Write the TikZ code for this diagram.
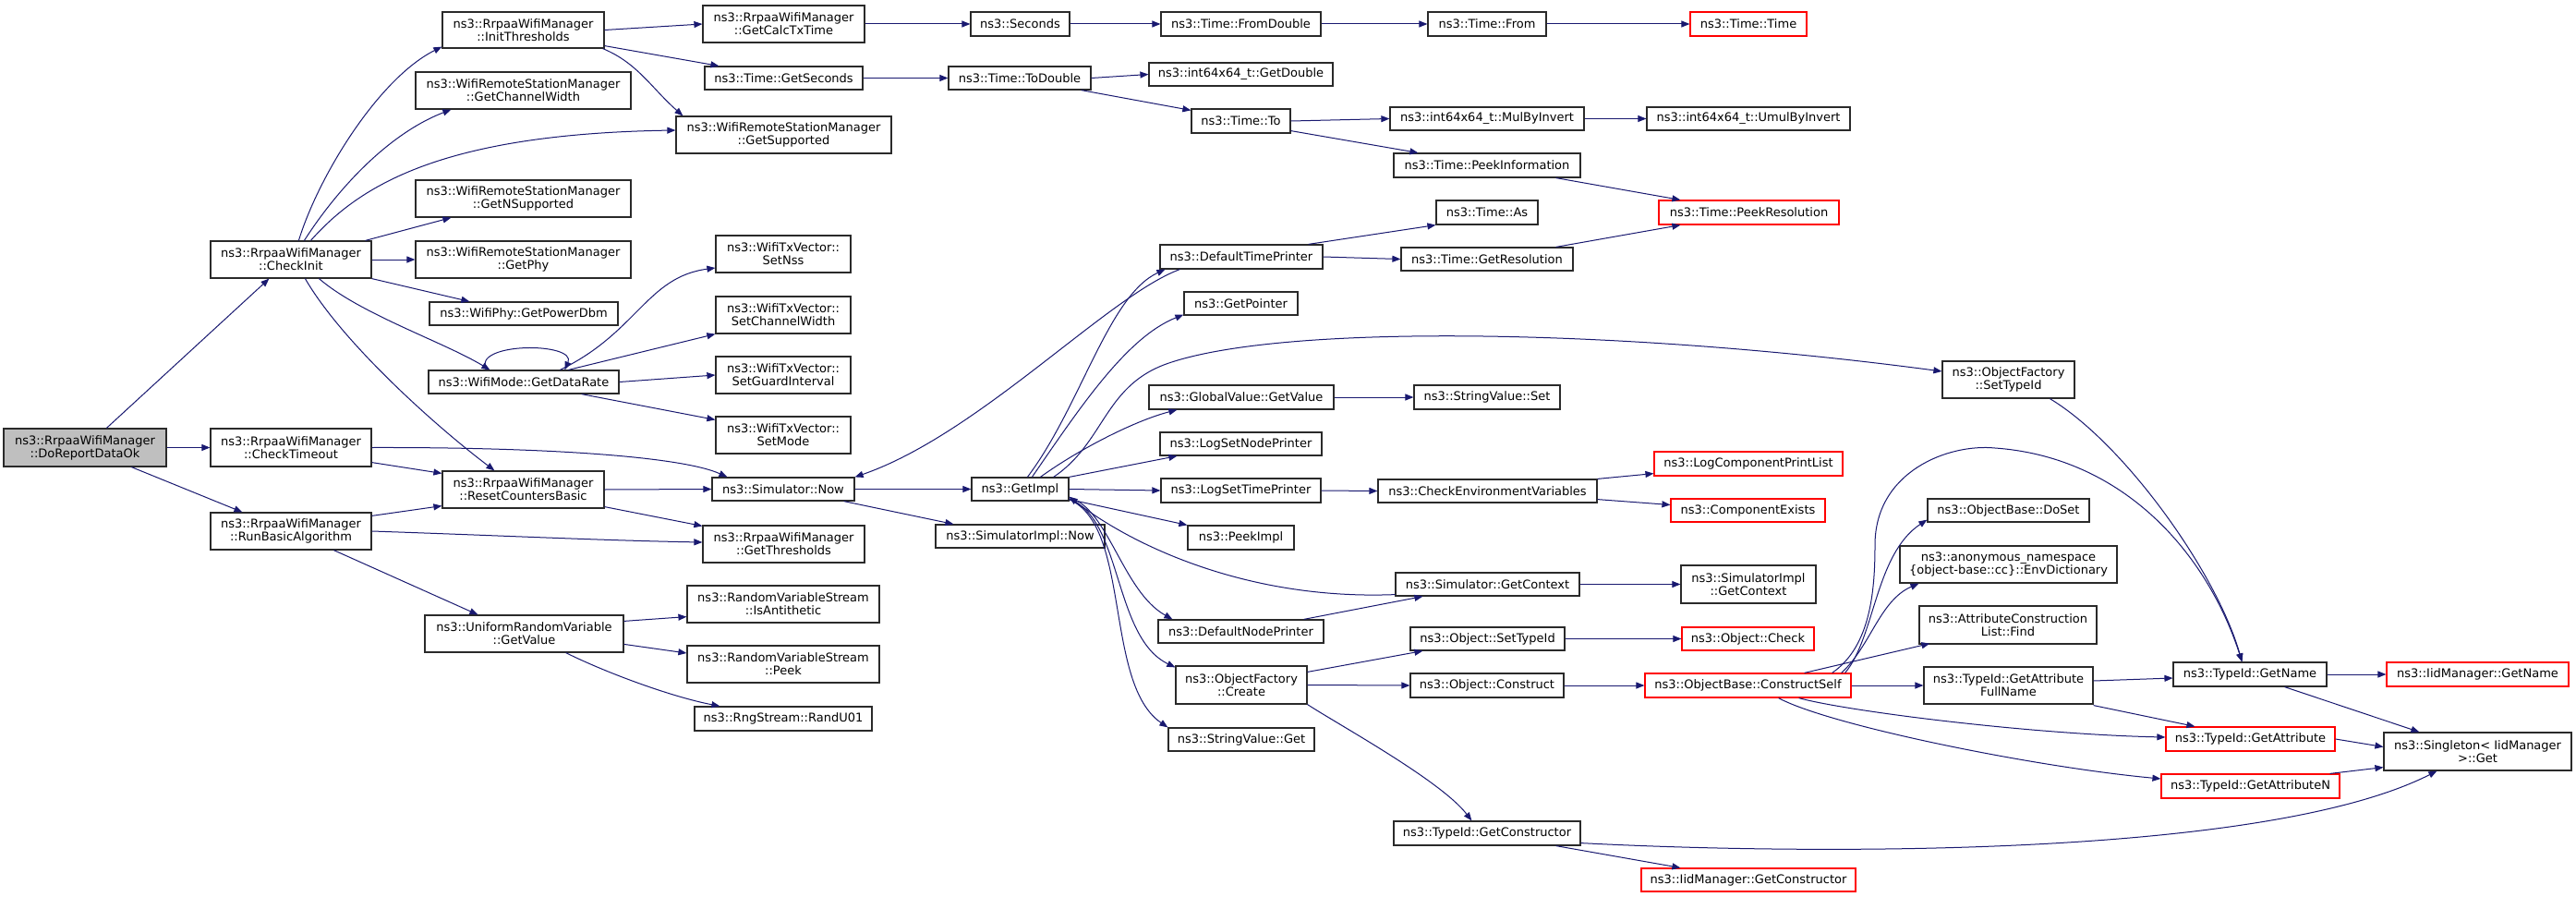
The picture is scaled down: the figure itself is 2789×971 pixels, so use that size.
\documentclass[tikz,border=0pt]{standalone}
\usepackage{fontspec}
\setmainfont{DejaVu Sans}
\usetikzlibrary{arrows.meta}
\definecolor{edgeblue}{HTML}{191970}
\definecolor{boxline}{HTML}{2A2A2A}
\definecolor{startfill}{HTML}{BFBFBF}
\definecolor{redline}{HTML}{FF0000}
\newcommand\bx[7]{%
 \pgfmathsetmacro\bxw{#5-#3}\pgfmathsetmacro\bxh{#6-#4}%
 \pgfmathsetmacro\bxx{(#3+#5)/2}\pgfmathsetmacro\bxy{(#4+#6)/2}%
 \node[#1,minimum width=\bxw pt,minimum height=\bxh pt] (#2) at (\bxx,\bxy) {#7};}
\begin{document}
\begin{tikzpicture}[x=1pt,y=-1pt,
  nbox/.style={draw=boxline,line width=1.2pt,fill=white,inner sep=0pt,align=center,font=\fontsize{13}{14}\selectfont},
  rbox/.style={nbox,draw=redline},
  sbox/.style={nbox,fill=startfill},
  cedge/.style={draw=edgeblue,line width=1pt,-{Triangle[length=9pt,width=7pt]}}]
\fill[white] (0,0) rectangle (2789,971);
\useasboundingbox (0,0) rectangle (2789,971);
% nodes
\bx{sbox}{drdo}{4}{464}{180}{505}{ns3::RrpaaWifiManager\\::DoReportDataOk}
\bx{nbox}{ci}{228}{261}{402}{301}{ns3::RrpaaWifiManager\\::CheckInit}
\bx{nbox}{ct}{228}{464}{402}{505}{ns3::RrpaaWifiManager\\::CheckTimeout}
\bx{nbox}{rba}{228}{555}{402}{595}{ns3::RrpaaWifiManager\\::RunBasicAlgorithm}
\bx{nbox}{it}{479}{13}{654}{52}{ns3::RrpaaWifiManager\\::InitThresholds}
\bx{nbox}{gcw}{450}{78}{683}{118}{ns3::WifiRemoteStationManager\\::GetChannelWidth}
\bx{nbox}{gns}{450}{195}{683}{235}{ns3::WifiRemoteStationManager\\::GetNSupported}
\bx{nbox}{gphy}{450}{261}{683}{301}{ns3::WifiRemoteStationManager\\::GetPhy}
\bx{nbox}{gpd}{465}{327}{669}{352}{ns3::WifiPhy::GetPowerDbm}
\bx{nbox}{gdr}{464}{401}{670}{426}{ns3::WifiMode::GetDataRate}
\bx{nbox}{rcb}{479}{510}{654}{550}{ns3::RrpaaWifiManager\\::ResetCountersBasic}
\bx{nbox}{urv}{460}{666}{675}{706}{ns3::UniformRandomVariable\\::GetValue}
\bx{nbox}{gctt}{761}{6}{936}{46}{ns3::RrpaaWifiManager\\::GetCalcTxTime}
\bx{nbox}{gsec}{763}{72}{934}{97}{ns3::Time::GetSeconds}
\bx{nbox}{gsup}{732}{126}{965}{166}{ns3::WifiRemoteStationManager\\::GetSupported}
\bx{nbox}{snss}{775}{255}{921}{295}{ns3::WifiTxVector::\\SetNss}
\bx{nbox}{scw}{775}{321}{921}{361}{ns3::WifiTxVector::\\SetChannelWidth}
\bx{nbox}{sgi}{775}{386}{921}{426}{ns3::WifiTxVector::\\SetGuardInterval}
\bx{nbox}{smode}{775}{451}{921}{491}{ns3::WifiTxVector::\\SetMode}
\bx{nbox}{snow}{771}{517}{925}{542}{ns3::Simulator::Now}
\bx{nbox}{gthr}{761}{569}{936}{609}{ns3::RrpaaWifiManager\\::GetThresholds}
\bx{nbox}{isa}{744}{634}{952}{674}{ns3::RandomVariableStream\\::IsAntithetic}
\bx{nbox}{rvsp}{744}{699}{952}{739}{ns3::RandomVariableStream\\::Peek}
\bx{nbox}{rand}{752}{765}{944}{791}{ns3::RngStream::RandU01}
\bx{nbox}{sec}{1051}{13}{1158}{39}{ns3::Seconds}
\bx{nbox}{tod}{1027}{72}{1181}{97}{ns3::Time::ToDouble}
\bx{nbox}{gimpl}{1052}{517}{1157}{542}{ns3::GetImpl}
\bx{nbox}{sinow}{1013}{568}{1196}{593}{ns3::SimulatorImpl::Now}
\bx{nbox}{fromd}{1257}{13}{1430}{39}{ns3::Time::FromDouble}
\bx{nbox}{gdbl}{1244}{68}{1443}{93}{ns3::int64x64\_t::GetDouble}
\bx{nbox}{tto}{1290}{118}{1397}{144}{ns3::Time::To}
\bx{nbox}{dtp}{1256}{265}{1432}{291}{ns3::DefaultTimePrinter}
\bx{nbox}{gptr}{1282}{316}{1405}{341}{ns3::GetPointer}
\bx{nbox}{gvgv}{1244}{417}{1444}{443}{ns3::GlobalValue::GetValue}
\bx{nbox}{lsnp}{1256}{468}{1431}{493}{ns3::LogSetNodePrinter}
\bx{nbox}{lstp}{1257}{518}{1430}{544}{ns3::LogSetTimePrinter}
\bx{nbox}{pimpl}{1286}{569}{1401}{595}{ns3::PeekImpl}
\bx{nbox}{dnp}{1254}{671}{1433}{696}{ns3::DefaultNodePrinter}
\bx{nbox}{ofc}{1273}{721}{1415}{762}{ns3::ObjectFactory\\::Create}
\bx{nbox}{svg}{1265}{788}{1423}{813}{ns3::StringValue::Get}
\bx{nbox}{tfrom}{1546}{13}{1674}{39}{ns3::Time::From}
\bx{rbox}{ttime}{1830}{13}{1956}{39}{ns3::Time::Time}
\bx{nbox}{mbi}{1505}{116}{1715}{141}{ns3::int64x64\_t::MulByInvert}
\bx{nbox}{umbi}{1783}{116}{2003}{141}{ns3::int64x64\_t::UmulByInvert}
\bx{nbox}{pinf}{1509}{166}{1711}{192}{ns3::Time::PeekInformation}
\bx{rbox}{pres}{1796}{217}{1991}{243}{ns3::Time::PeekResolution}
\bx{nbox}{tas}{1555}{217}{1665}{243}{ns3::Time::As}
\bx{nbox}{gres}{1517}{268}{1703}{293}{ns3::Time::GetResolution}
\bx{nbox}{svs}{1531}{417}{1689}{443}{ns3::StringValue::Set}
\bx{rbox}{lcpl}{1791}{489}{1995}{515}{ns3::LogComponentPrintList}
\bx{nbox}{cev}{1492}{519}{1729}{544}{ns3::CheckEnvironmentVariables}
\bx{rbox}{cex}{1809}{540}{1976}{565}{ns3::ComponentExists}
\bx{nbox}{sgc}{1511}{620}{1710}{645}{ns3::Simulator::GetContext}
\bx{nbox}{sigc}{1820}{612}{1966}{653}{ns3::SimulatorImpl\\::GetContext}
\bx{nbox}{osti}{1527}{679}{1694}{704}{ns3::Object::SetTypeId}
\bx{rbox}{ochk}{1821}{679}{1964}{704}{ns3::Object::Check}
\bx{nbox}{ocon}{1527}{729}{1693}{755}{ns3::Object::Construct}
\bx{rbox}{cself}{1781}{729}{2004}{755}{ns3::ObjectBase::ConstructSelf}
\bx{nbox}{tgc}{1509}{889}{1711}{915}{ns3::TypeId::GetConstructor}
\bx{rbox}{igc}{1777}{940}{2009}{965}{ns3::IidManager::GetConstructor}
\bx{nbox}{ofst}{2103}{391}{2246}{431}{ns3::ObjectFactory\\::SetTypeId}
\bx{nbox}{doset}{2087}{540}{2262}{565}{ns3::ObjectBase::DoSet}
\bx{nbox}{envd}{2057}{591}{2292}{631}{ns3::anonymous\_namespace\\\{object-base::cc\}::EnvDictionary}
\bx{nbox}{acl}{2078}{656}{2270}{697}{ns3::AttributeConstruction\\List::Find}
\bx{nbox}{gafn}{2083}{722}{2266}{762}{ns3::TypeId::GetAttribute\\FullName}
\bx{nbox}{gname}{2353}{717}{2519}{743}{ns3::TypeId::GetName}
\bx{rbox}{igname}{2584}{717}{2781}{743}{ns3::IidManager::GetName}
\bx{rbox}{gattr}{2345}{787}{2528}{813}{ns3::TypeId::GetAttribute}
\bx{rbox}{gattrn}{2340}{838}{2533}{864}{ns3::TypeId::GetAttributeN}
\bx{nbox}{sing}{2581}{793}{2784}{834}{ns3::Singleton< IidManager\\>::Get}
% edges
\draw[cedge] ([xshift=112pt]drdo.north west) -- ([xshift=64pt]ci.south west);
\draw[cedge] (drdo.east) -- (ct.west);
\draw[cedge] ([xshift=139pt]drdo.south west) -- ([xshift=35pt]rba.north west);
\draw[cedge] ([xshift=96pt]ci.north west) .. controls (345,190) and (410,85) .. ([yshift=2pt]it.south west);
\draw[cedge] ([xshift=102pt]ci.north west) .. controls (365,205) and (420,145) .. ([xshift=39pt]gcw.south west);
\draw[cedge] ([xshift=109pt]ci.north west) .. controls (390,200) and (480,145) .. ([yshift=5pt]gsup.west);
\draw[cedge] ([xshift=-7pt]ci.north east) -- ([xshift=39pt]gns.south west);
\draw[cedge] (ci.east) -- (gphy.west);
\draw[cedge] (ci.south east) -- ([xshift=44pt]gpd.north west);
\draw[cedge] ([xshift=118pt]ci.south west) .. controls (390,340) and (480,370) .. ([xshift=67pt]gdr.north west);
\draw[cedge] ([xshift=103pt]ci.south west) .. controls (370,370) and (470,460) .. ([xshift=57pt]rcb.north west);
\draw[cedge] (it.east) -- (gctt.west);
\draw[cedge] ([yshift=3pt]it.south east) -- ([xshift=16pt]gsec.north west);
\draw[cedge] ([xshift=-2pt]it.south east) .. controls (690,68) and (705,95) .. ([xshift=8pt]gsup.north west);
\draw[cedge] (gctt.east) -- (sec.west);
\draw[cedge] (sec.east) -- (fromd.west);
\draw[cedge] (fromd.east) -- (tfrom.west);
\draw[cedge] (tfrom.east) -- (ttime.west);
\draw[cedge] (gsec.east) -- (tod.west);
\draw[cedge] (tod.east) -- (gdbl.west);
\draw[cedge] ([xshift=-11pt]tod.south east) -- ([yshift=-2pt]tto.north west);
\draw[cedge] (tto.east) -- (mbi.west);
\draw[cedge] (mbi.east) -- (umbi.west);
\draw[cedge] ([yshift=3pt]tto.south east) -- ([xshift=27pt]pinf.north west);
\draw[cedge] ([xshift=-27pt]pinf.south east) -- ([xshift=24pt]pres.north west);
\draw[cedge] ([xshift=-16pt]dtp.north east) -- (tas.south west);
\draw[cedge] (dtp.east) -- (gres.west);
\draw[cedge] ([xshift=-19pt]gres.north east) -- ([xshift=24pt]pres.south west);
\draw[cedge] (gvgv.east) -- (svs.west);
\draw[cedge] ([xshift=63pt]gdr.north west) .. controls (510,370) and (625,370) .. ([xshift=148pt]gdr.north west);
\draw[cedge] ([xshift=143pt]gdr.north west) .. controls (690,360) and (700,300) .. ([yshift=-15pt]snss.west);
\draw[cedge] ([xshift=152pt]gdr.north west) -- (scw.south west);
\draw[cedge] (gdr.east) -- (sgi.west);
\draw[cedge] ([xshift=-41pt]gdr.south east) -- ([yshift=-4pt]smode.north west);
\draw[cedge] (ct.east) .. controls (600,484) and (740,495) .. ([xshift=17pt]snow.north west);
\draw[cedge] ([yshift=5pt]ct.south east) -- ([yshift=-3pt]rcb.north west);
\draw[cedge] ([yshift=-4pt]rba.north east) -- ([yshift=3pt]rcb.south west);
\draw[cedge] (rba.east) .. controls (550,580) and (650,585) .. ([yshift=2pt]gthr.west);
\draw[cedge] ([xshift=134pt]rba.south west) -- ([xshift=58pt]urv.north west);
\draw[cedge] (rcb.east) -- (snow.west);
\draw[cedge] ([yshift=2pt]rcb.south east) -- ([yshift=-1pt]gthr.north west);
\draw[cedge] ([yshift=-7pt]urv.north east) -- ([yshift=7pt]isa.south west);
\draw[cedge] ([yshift=-32pt]urv.north east) -- ([yshift=12pt]rvsp.west);
\draw[cedge] ([xshift=-63pt]urv.south east) .. controls (660,730) and (730,755) .. ([xshift=28pt]rand.north west);
\draw[cedge] (snow.east) -- (gimpl.west);
\draw[cedge] ([xshift=-12pt]snow.south east) -- ([xshift=20pt]sinow.north west);
\draw[cedge] ([xshift=22pt]dtp.south west) .. controls (1200,320) and (1060,470) .. (snow.north east);
\draw[cedge] ([xshift=61pt]gimpl.north west) .. controls (1170,440) and (1200,320) .. ([xshift=6pt]dtp.south west);
\draw[cedge] ([xshift=66pt]gimpl.north west) .. controls (1170,440) and (1220,365) .. ([yshift=1pt]gptr.south west);
\draw[cedge] ([xshift=75pt]gimpl.north west) .. controls (1170,485) and (1230,455) .. ([xshift=31pt]gvgv.south west);
\draw[cedge] ([xshift=-17pt]gimpl.north east) .. controls (1195,480) and (1195,420) .. (1260,395) .. controls (1380,350) and (1750,355) .. ([yshift=9pt]ofst.west);
\draw[cedge] (gimpl.north east) -- ([xshift=19pt]lsnp.south west);
\draw[cedge] (gimpl.east) -- (lstp.west);
\draw[cedge] ([yshift=2pt]gimpl.south east) -- (pimpl.north west);
\draw[cedge] ([yshift=4pt]gimpl.south east) .. controls (1200,550) and (1215,640) .. ([xshift=16pt]dnp.north west);
\draw[cedge] ([yshift=2pt]gimpl.south east) .. controls (1215,560) and (1205,690) .. ([yshift=-2pt]ofc.north west);
\draw[cedge] ([yshift=2pt]gimpl.south east) .. controls (1225,570) and (1195,740) .. (svg.north west);
\draw[cedge] ([yshift=2pt]sgc.south west) .. controls (1350,650) and (1225,590) .. ([yshift=5pt]gimpl.south east);
\draw[cedge] ([xshift=-22pt]dnp.north east) -- ([xshift=30pt]sgc.south west);
\draw[cedge] (sgc.east) -- (sigc.west);
\draw[cedge] (lstp.east) -- (cev.west);
\draw[cedge] (cev.north east) -- ([yshift=3pt]lcpl.south west);
\draw[cedge] ([yshift=4pt]cev.south east) -- ([yshift=6pt]cex.west);
\draw[cedge] ([yshift=-7pt]ofc.north east) -- ([xshift=14pt]osti.south west);
\draw[cedge] (ofc.east) -- (ocon.west);
\draw[cedge] (ofc.south east) .. controls (1450,785) and (1560,845) .. ([xshift=85pt]tgc.north west);
\draw[cedge] (osti.east) -- (ochk.west);
\draw[cedge] (ocon.east) -- (cself.west);
\draw[cedge] ([xshift=-27pt]tgc.south east) -- ([xshift=43pt]igc.north west);
\draw[cedge] ([yshift=3pt]tgc.south east) .. controls (1950,925) and (2450,930) .. ([xshift=58pt]sing.south west);
\draw[cedge] ([xshift=-51pt]cself.north east) -- ([xshift=12pt,yshift=1pt]acl.south west);
\draw[cedge] ([xshift=-7pt]cself.north east) .. controls (2030,690) and (2030,600) .. ([yshift=3pt]doset.south west);
\draw[cedge] ([xshift=-11pt]cself.north east) .. controls (2025,700) and (2035,650) .. ([xshift=21pt]envd.south west);
\draw[cedge] ([xshift=-21pt]cself.north east) .. controls (2025,700) and (2030,640) .. (2030,590) .. controls (2030,510) and (2110,480) .. (2160,485) .. controls (2300,495) and (2390,600) .. ([xshift=75pt]gname.north west);
\draw[cedge] (cself.east) -- (gafn.west);
\draw[cedge] ([xshift=-57pt]cself.south east) .. controls (2000,770) and (2200,795) .. ([yshift=2pt]gattr.west);
\draw[cedge] ([xshift=-79pt]cself.south east) .. controls (1980,785) and (2200,830) .. ([yshift=8pt]gattrn.west);
\draw[cedge] ([xshift=117pt]ofst.south west) .. controls (2300,480) and (2400,620) .. ([xshift=75pt]gname.north west);
\draw[cedge] ([yshift=5pt]gafn.east) -- ([yshift=-4pt]gname.west);
\draw[cedge] ([yshift=-1pt]gafn.south east) -- ([xshift=32pt]gattr.north west);
\draw[cedge] (gname.east) -- (igname.west);
\draw[cedge] ([xshift=-46pt]gname.south east) -- ([xshift=39pt]sing.north west);
\draw[cedge] (gattr.east) -- ([yshift=5pt]sing.west);
\draw[cedge] ([xshift=-11pt]gattrn.north east) -- ([yshift=4pt]sing.south west);
\end{tikzpicture}
\end{document}
